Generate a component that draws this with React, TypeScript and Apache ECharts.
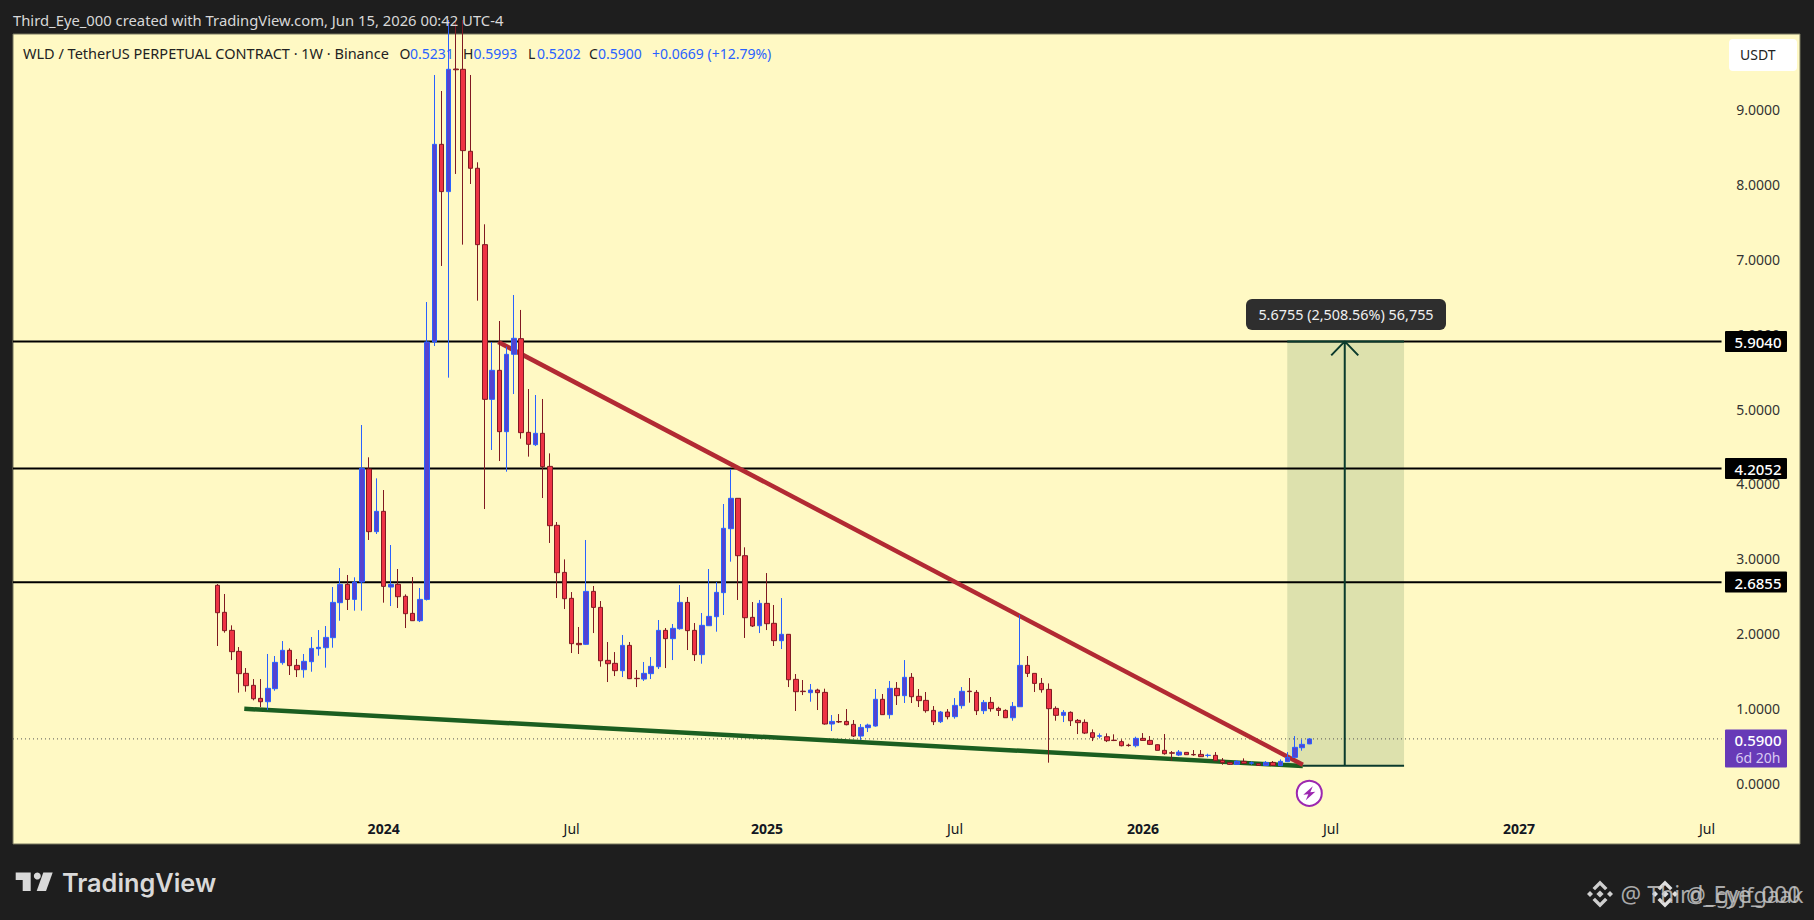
import React, { useEffect, useRef } from "react";
import * as echarts from "echarts";

// Weekly candles, index 0 = week of 2023-07-24
const opens = [2.643,2.282,2.041,1.76,1.466,1.306,1.132,1.087,1.261,1.609,1.774,1.573,1.515,1.622,1.796,1.809,1.943,2.411,2.656,2.455,2.687,4.198,3.36,3.632,2.62,2.656,2.496,2.268,2.17,2.455,5.896,8.538,7.906,9.545,9.541,8.445,8.218,7.197,5.129,5.517,4.697,5.731,5.94,4.688,4.523,4.675,4.233,3.445,2.816,2.469,1.867,1.854,2.562,2.348,1.64,1.6,1.502,1.84,1.4,1.39,1.462,1.555,2.041,1.93,2.063,2.415,2.041,1.716,2.103,2.224,2.545,3.4,3.806,3.039,2.215,2.103,2.402,2.135,1.903,1.988,1.386,1.228,1.208,1.243,1.212,0.789,0.822,0.824,0.784,0.628,0.74,0.762,1.119,0.914,1.266,1.168,1.413,1.159,1.105,0.971,0.82,0.949,0.887,1.034,1.228,1.212,0.967,1.078,0.998,0.971,0.873,1.02,1.573,1.466,1.332,1.252,0.998,0.905,0.945,0.838,0.811,0.673,0.626,0.619,0.573,0.553,0.506,0.499,0.597,0.57,0.512,0.437,0.404,0.374,0.41,0.382,0.383,0.368,0.37,0.303,0.276,0.25,0.29,0.265,0.258,0.236,0.276,0.232,0.285,0.343,0.472,0.5231];
const closes = [2.277,2.037,1.756,1.462,1.301,1.127,1.087,1.266,1.613,1.774,1.569,1.515,1.627,1.8,1.814,1.947,2.415,2.656,2.455,2.687,4.207,3.36,3.632,2.629,2.656,2.491,2.264,2.17,2.455,5.896,8.538,7.906,9.541,9.535,8.454,8.218,7.197,5.129,5.517,4.697,5.731,5.945,4.684,4.528,4.675,4.229,3.44,2.812,2.464,1.863,1.849,2.562,2.348,1.635,1.595,1.502,1.84,1.395,1.395,1.466,1.56,2.041,1.93,2.068,2.415,2.037,1.716,2.108,2.228,2.549,3.405,3.806,3.039,2.21,2.099,2.402,2.13,1.903,1.988,1.381,1.221,1.222,1.243,1.208,0.789,0.824,0.816,0.78,0.628,0.744,0.775,1.119,0.914,1.266,1.168,1.413,1.154,1.101,0.967,0.82,0.949,0.887,1.038,1.226,1.222,0.967,1.078,0.994,0.971,0.873,1.025,1.573,1.466,1.332,1.248,0.994,0.905,0.945,0.833,0.807,0.668,0.61,0.632,0.566,0.568,0.499,0.501,0.597,0.57,0.517,0.437,0.392,0.399,0.414,0.379,0.377,0.352,0.372,0.299,0.272,0.25,0.29,0.263,0.27,0.236,0.276,0.236,0.29,0.343,0.477,0.517,0.59];
const lows = [1.832,2.01,1.644,1.208,1.221,1.105,1.016,0.976,1.234,1.582,1.444,1.417,1.408,1.488,1.702,1.542,1.809,2.17,2.313,2.304,2.304,3.249,3.329,2.411,2.366,2.34,2.072,2.168,2.152,2.44,5.842,6.912,5.419,8.142,7.197,8.008,6.448,3.663,4.452,4.305,4.162,5.2,4.603,4.363,4.505,3.81,3.209,2.473,2.326,1.738,1.725,1.845,2.005,1.555,1.35,1.43,1.417,1.39,1.283,1.364,1.39,1.524,1.537,1.644,2.05,1.778,1.631,1.595,2.1,2.023,2.246,2.959,2.447,1.939,2.086,2.005,2.045,1.832,1.791,1.283,0.963,1.176,1.087,0.976,0.78,0.695,0.802,0.771,0.615,0.575,0.682,0.753,0.912,0.86,1.043,1.07,1.07,1.016,0.94,0.775,0.802,0.851,0.86,0.994,1.074,0.909,0.922,0.954,0.896,0.873,0.833,1.02,1.417,1.217,1.208,0.272,0.833,0.815,0.762,0.655,0.655,0.561,0.597,0.548,0.561,0.49,0.486,0.477,0.566,0.508,0.437,0.379,0.299,0.361,0.377,0.365,0.348,0.343,0.29,0.245,0.241,0.241,0.254,0.245,0.232,0.232,0.227,0.227,0.281,0.334,0.432,0.5202];
const highs = [2.66,2.527,2.108,1.818,1.537,1.39,1.39,1.725,1.698,1.898,1.8,1.658,1.725,1.952,2.045,2.099,2.62,2.874,2.781,2.75,4.786,4.354,4.073,3.917,3.182,2.861,2.522,2.754,2.607,6.43,9.465,9.251,10.2,10.2,10.2,9.465,8.298,7.469,5.896,6.176,5.833,6.524,6.324,5.267,5.187,5.134,4.407,3.489,2.99,2.553,2.086,3.249,2.634,2.433,1.885,1.751,1.979,1.885,1.511,1.618,1.684,2.179,2.072,2.126,2.647,2.487,2.139,2.273,2.861,2.687,3.73,4.198,3.806,3.151,2.42,2.447,2.807,2.38,2.473,1.99,1.457,1.377,1.324,1.261,1.261,0.909,0.922,0.989,0.842,0.789,0.793,1.257,1.19,1.364,1.35,1.644,1.47,1.257,1.217,1.029,0.963,0.989,1.136,1.283,1.404,1.243,1.11,1.15,1.02,0.985,1.083,2.246,1.698,1.466,1.404,1.332,1.025,0.976,0.958,0.856,0.851,0.717,0.664,0.664,0.651,0.584,0.526,0.619,0.668,0.628,0.517,0.655,0.428,0.441,0.412,0.441,0.441,0.392,0.414,0.334,0.285,0.307,0.33,0.29,0.267,0.294,0.294,0.316,0.414,0.628,0.584,0.5993];

const timeTickIndex = [23, 49, 76, 102, 128, 154, 180, 206];
const timeTickLabels = ["2024", "Jul", "2025", "Jul", "2026", "Jul", "2027", "Jul"];
const priceTicks = [0, 1, 2, 3, 4, 5, 6, 7, 8, 9];

const levels = [5.904, 4.2052, 2.6855];
const lastPrice = 0.59;
const xMin = -28.25;
const xMax = 218.85;
const yMin = -0.815;
const yMax = 10.013;
const levelEnd = 208;

const greenTrend = [[3.73, 0.993], [150.1, 0.227]];
const redTrend = [[38.85, 5.896], [150.1, 0.245]];
const targetBox = { left: 147.95, right: 164.1, entry: 0.231, target: 5.904, mid: 155.9 };

const FONT = '"Noto Sans", sans-serif';
const yPx = (v: number) => 783 - 74.8 * v;

function txt(text: string, x: number, y: number, fill: string, fontSize = 14, align = "left", fontWeight: any = 400, fontFamily = FONT, opacity = 1) {
  return { type: "text", z: 100, silent: true, style: { text, x, y, fill, fontSize, fontWeight, fontFamily, align, verticalAlign: "middle", opacity } };
}
function poly(points: number[][], fill: string, opacity = 1) {
  return { type: "polygon", z: 99, silent: true, shape: { points }, style: { fill, opacity } };
}
function binance(cx: number, cy: number, fill: string) {
  const p = (pts: number[][]) => poly(pts.map(([a, b]) => [cx + a, cy + b]), fill);
  return [
    p([[0, -3.6], [3.6, 0], [0, 3.6], [-3.6, 0]]),
    p([[-10, -3], [-7, 0], [-10, 3], [-13, 0]]),
    p([[10, -3], [13, 0], [10, 3], [7, 0]]),
    p([[0, -13.5], [7.5, -6], [5, -3.8], [0, -8.8], [-5, -3.8], [-7.5, -6]]),
    p([[0, 13.5], [7.5, 6], [5, 3.8], [0, 8.8], [-5, 3.8], [-7.5, 6]]),
  ];
}
function priceTag(label: string, v: number) {
  const y = yPx(v);
  return [
    { type: "rect", z: 99, silent: true, shape: { x: 1725, y: y - 10.5, width: 62, height: 21, r: 1 }, style: { fill: "#000000" } },
    txt(label, 1758, y + 0.5, "#ffffff", 15, "center", 500),
  ];
}

function buildOption() {
  const lineSeries = (data: number[][], color: string, width: number, z: number, extra: any = {}) => ({
    type: "line", data, symbol: "none", silent: true, z, lineStyle: { color, width }, ...extra,
  });
  const { left, right, entry, target, mid } = targetBox;
  const dark = "#0a3a2c";
  return {
    animation: false,
    backgroundColor: "#1e1e1e",
    grid: { left: 13, top: 34, width: 1787, height: 810, show: true, backgroundColor: "#fff9c4", borderColor: "#77775f", borderWidth: 1, containLabel: false },
    xAxis: {
      type: "value", min: xMin, max: xMax, splitLine: { show: false }, axisLine: { show: false }, axisTick: { show: false },
      axisLabel: {
        inside: true, margin: 9, customValues: timeTickIndex, fontFamily: FONT, fontSize: 14, color: "#131722",
        formatter: (v: number) => {
          const s = timeTickLabels[timeTickIndex.indexOf(v)];
          return s === "Jul" ? s : `{b|${s}}`;
        },
        rich: { b: { fontFamily: FONT, fontSize: 14, fontWeight: 700, color: "#131722" } },
      },
    },
    yAxis: {
      type: "value", position: "right", min: yMin, max: yMax, scale: true, splitLine: { show: false }, axisLine: { show: false }, axisTick: { show: false },
      axisLabel: { inside: true, margin: 20, customValues: priceTicks, fontFamily: FONT, fontSize: 14, color: "#333333", formatter: (v: number) => v.toFixed(4) },
    },
    series: [
      lineSeries(greenTrend, "#1b5e20", 4.5, 4, {
        markArea: { silent: true, z: 1, itemStyle: { color: "#dde1ad", opacity: 1 }, data: [[{ coord: [left, entry] }, { coord: [right, target] }]] },
      }),
      lineSeries(redTrend, "#b22a33", 4.5, 4),
      ...levels.map((v) => lineSeries([[xMin, v], [levelEnd, v]], "#000000", 2, 3)),
      lineSeries([[xMin, lastPrice], [levelEnd, lastPrice]], "#555555", 1, 3, { lineStyle: { color: "#555555", width: 1, type: [1, 3] } }),
      lineSeries([[left, target], [right, target]], dark, 2, 3),
      lineSeries([[150.1, entry], [right, entry]], dark, 2, 3),
      lineSeries([[mid, entry], [mid, target], [mid - 1.87, target - 0.187], [mid, target], [mid + 1.87, target - 0.187]], dark, 2, 3),
      {
        type: "candlestick", z: 6, silent: true, barWidth: 5,
        encode: { x: 0, y: [1, 2, 3, 4] },
        data: opens.map((o, i) => [i, o, closes[i], lows[i], highs[i]]),
        itemStyle: { color: "#5543cf", color0: "#ee3344", borderColor: "#2962ff", borderColor0: "#801922", borderWidth: 1 },
      },
    ],
    graphic: { elements: [
      txt("Third_Eye_000 created with TradingView.com, Jun 15, 2026 00:42 UTC-4", 13, 20, "#d8d8d8", 14.8),
      txt("WLD / TetherUS PERPETUAL CONTRACT · 1W · Binance", 23, 53, "#222222", 14.5),
      txt("O", 399.5, 53, "#222222", 14), txt("0.5231", 410, 53, "#2962ff", 14),
      txt("H", 463, 53, "#222222", 14), txt("0.5993", 473.5, 53, "#2962ff", 14),
      txt("L", 528, 53, "#222222", 14), txt("0.5202", 537, 53, "#2962ff", 14),
      txt("C", 589, 53, "#222222", 14), txt("0.5900", 598, 53, "#2962ff", 14),
      txt("+0.0669 (+12.79%)", 652, 53, "#2962ff", 14),
      { type: "rect", z: 99, silent: true, shape: { x: 1729, y: 39, width: 68, height: 32, r: 4 }, style: { fill: "#ffffff" } },
      txt("USDT", 1740, 54.5, "#222222", 14),
      ...priceTag("5.9040", levels[0]),
      ...priceTag("4.2052", levels[1]),
      ...priceTag("2.6855", levels[2]),
      { type: "rect", z: 99, silent: true, shape: { x: 1725, y: 729.5, width: 62, height: 38, r: 1 }, style: { fill: "#673ab7" } },
      txt("0.5900", 1758, 740, "#ffffff", 15, "center", 500),
      txt("6d 20h", 1758, 757, "#d9c9f2", 14, "center"),
      { type: "rect", z: 99, silent: true, shape: { x: 1246, y: 299, width: 200, height: 31, r: 6 }, style: { fill: "#2e2e2e" } },
      txt("5.6755 (2,508.56%) 56,755", 1346, 314.5, "#f0f0f0", 14.4, "center"),
      { type: "circle", z: 99, silent: true, shape: { cx: 1309.3, cy: 793.3, r: 12.5 }, style: { fill: "#ffffff", stroke: "#9c27b0", lineWidth: 2 } },
      poly([[3.5, -7], [-6, 1.5], [-1, 1], [-3.5, 7], [6, -1.5], [1, -1]].map(([a, b]) => [1309.3 + a, 793.3 + b]), "#9c27b0"),
      // TradingView mark
      poly([[15.7, 872.5], [30.7, 872.5], [30.7, 891], [22.7, 891], [22.7, 880], [15.7, 880]], "#d9d9d9"),
      { type: "circle", z: 99, silent: true, shape: { cx: 37.3, cy: 876, r: 3.5 }, style: { fill: "#d9d9d9" } },
      poly([[43.3, 872.5], [52.7, 872.5], [46, 891], [36.7, 891]], "#d9d9d9"),
      txt("TradingView", 62, 882, "#d9d9d9", 25.3, "left", 600, "Inter, sans-serif"),
      // Overlapping share watermarks
      ...binance(1600, 894, "#cfcfcf"),
      txt("@ Third_Eye_000", 1620.5, 894, "#c4c4c4", 23, "left", 400, FONT, 0.85),
      ...binance(1665, 894, "#e0e0e0"),
      txt("@_gyjfgaak", 1686, 894, "#c4c4c4", 22, "left", 400, FONT, 0.85),
    ] },
  };
}

export default function App() {
  const ref = useRef<HTMLDivElement>(null);
  useEffect(() => {
    document.body.style.margin = "0";
    document.body.style.background = "#1e1e1e";
    const chart = echarts.init(ref.current!, undefined, { renderer: "svg" });
    chart.setOption(buildOption() as any);
    return () => chart.dispose();
  }, []);
  return <div ref={ref} style={{ width: 1814, height: 920 }} />;
}
